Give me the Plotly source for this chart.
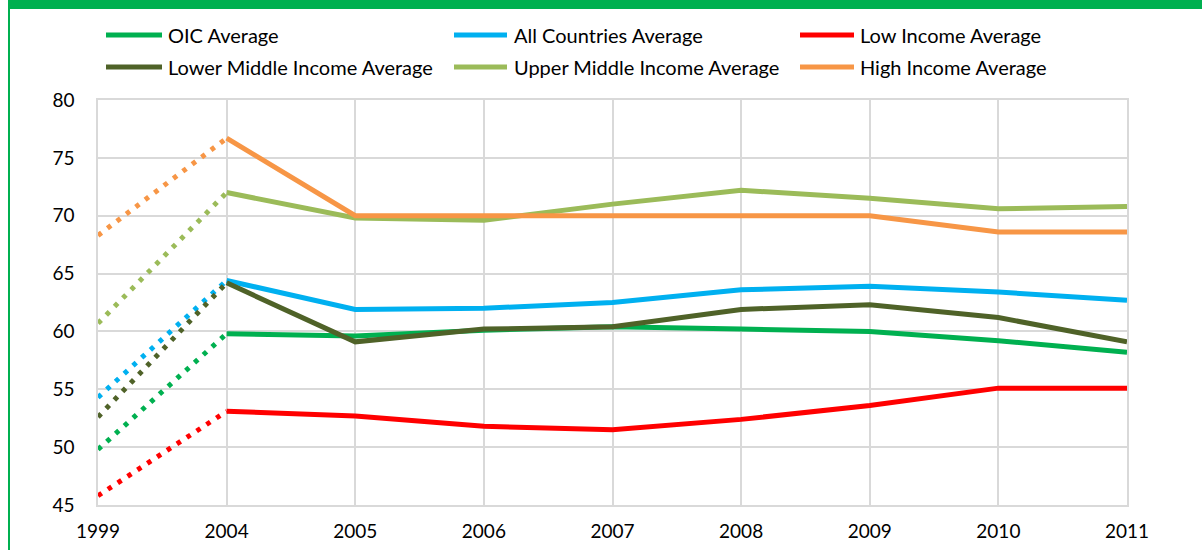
import plotly.graph_objects as go

# ---- data -------------------------------------------------------------
years = ["1999", "2004", "2005", "2006", "2007", "2008", "2009", "2010", "2011"]

series_names = [
    "OIC Average",
    "All Countries Average",
    "Low Income Average",
    "Lower Middle Income Average",
    "Upper Middle Income Average",
    "High Income Average",
]

oic_avg = [49.8, 59.8, 59.6, 60.1, 60.4, 60.2, 60.0, 59.2, 58.2]
all_countries_avg = [54.3, 64.4, 61.9, 62.0, 62.5, 63.6, 63.9, 63.4, 62.7]
low_income_avg = [45.8, 53.1, 52.7, 51.8, 51.5, 52.4, 53.6, 55.1, 55.1]
lower_middle_avg = [52.6, 64.2, 59.1, 60.2, 60.4, 61.9, 62.3, 61.2, 59.1]
upper_middle_avg = [60.7, 72.0, 69.8, 69.6, 71.0, 72.2, 71.5, 70.6, 70.8]
high_income_avg = [68.3, 76.7, 70.0, 70.0, 70.0, 70.0, 70.0, 68.6, 68.6]

series_values = [
    oic_avg,
    all_countries_avg,
    low_income_avg,
    lower_middle_avg,
    upper_middle_avg,
    high_income_avg,
]

y_ticks = [45, 50, 55, 60, 65, 70, 75, 80]

# ---- styling ----------------------------------------------------------
colors = ["#00b050", "#00b0f0", "#ff0000", "#4f6228", "#9bbb59", "#f79646"]
FONT = "Lato, 'Open Sans', sans-serif"
GRID = "#d9d9d9"
BAND = "#00b050"

W, H = 1202, 550
ML, MR, MT, MB = 98, 75, 100, 45
PW, PH = W - ML - MR, H - MT - MB


def px_x(px):
    return (px - ML) / PW


def px_y(py):
    return (H - MB - py) / PH


fig = go.Figure()

# dotted link from 1999 to the first full-series year
for name, vals, col in zip(series_names, series_values, colors):
    fig.add_trace(go.Scatter(
        x=years[:2], y=vals[:2], mode="lines", name=name, showlegend=False,
        line=dict(color=col, width=5, dash="4.5px,7.3px"), hoverinfo="skip",
    ))

# solid yearly series 2004-2011
for name, vals, col in zip(series_names, series_values, colors):
    fig.add_trace(go.Scatter(
        x=years[1:], y=vals[1:], mode="lines", name=name, showlegend=False,
        line=dict(color=col, width=5),
    ))

shapes = []
annotations = []

# two-row legend drawn with line swatches and labels
legend_cols = [(106, 162, 166), (454, 507, 512), (800, 854, 858)]
legend_rows = [35, 67]
for i, (name, col) in enumerate(zip(series_names, colors)):
    r, c = divmod(i, 3)
    x0, x1, xt = legend_cols[c]
    yy = legend_rows[r]
    shapes.append(dict(
        type="line", xref="paper", yref="paper",
        x0=px_x(x0), x1=px_x(x1), y0=px_y(yy), y1=px_y(yy),
        line=dict(color=col, width=5),
    ))
    annotations.append(dict(
        xref="paper", yref="paper", x=px_x(xt), y=px_y(yy),
        xanchor="left", yanchor="middle", showarrow=False, text=name,
        font=dict(family=FONT, size=20, color="#000000"),
    ))

# green header band and left frame rule
shapes.append(dict(
    type="rect", xref="paper", yref="paper", layer="above",
    x0=px_x(8), x1=px_x(W), y0=px_y(9), y1=px_y(0),
    line=dict(width=0), fillcolor=BAND,
))
shapes.append(dict(
    type="line", xref="paper", yref="paper", layer="above",
    x0=px_x(9), x1=px_x(9), y0=px_y(0), y1=px_y(H),
    line=dict(color=BAND, width=2),
))

fig.update_layout(
    width=W, height=H,
    margin=dict(l=ML, r=MR, t=MT, b=MB, pad=0, autoexpand=False),
    paper_bgcolor="#ffffff", plot_bgcolor="#ffffff",
    showlegend=False,
    shapes=shapes,
    annotations=annotations,
    font=dict(family=FONT, size=19, color="#000000"),
)

fig.update_xaxes(
    type="category", categoryorder="array", categoryarray=years,
    range=[0, len(years) - 1], automargin=False,
    showgrid=True, gridcolor=GRID, gridwidth=1.5,
    showline=True, linecolor=GRID, linewidth=1.5, mirror=True,
    ticks="", ticklabelstandoff=8,
    tickfont=dict(family=FONT, size=19, color="#000000"),
    zeroline=False, fixedrange=True,
)
fig.update_yaxes(
    range=[45, 80], tickmode="array", tickvals=y_ticks, automargin=False,
    showgrid=True, gridcolor=GRID, gridwidth=1.5,
    showline=True, linecolor=GRID, linewidth=1.5, mirror=True,
    ticks="", ticklabelstandoff=18,
    tickfont=dict(family=FONT, size=19, color="#000000"),
    zeroline=False, fixedrange=True,
)

fig.write_html("out.html", config={"displayModeBar": False})
